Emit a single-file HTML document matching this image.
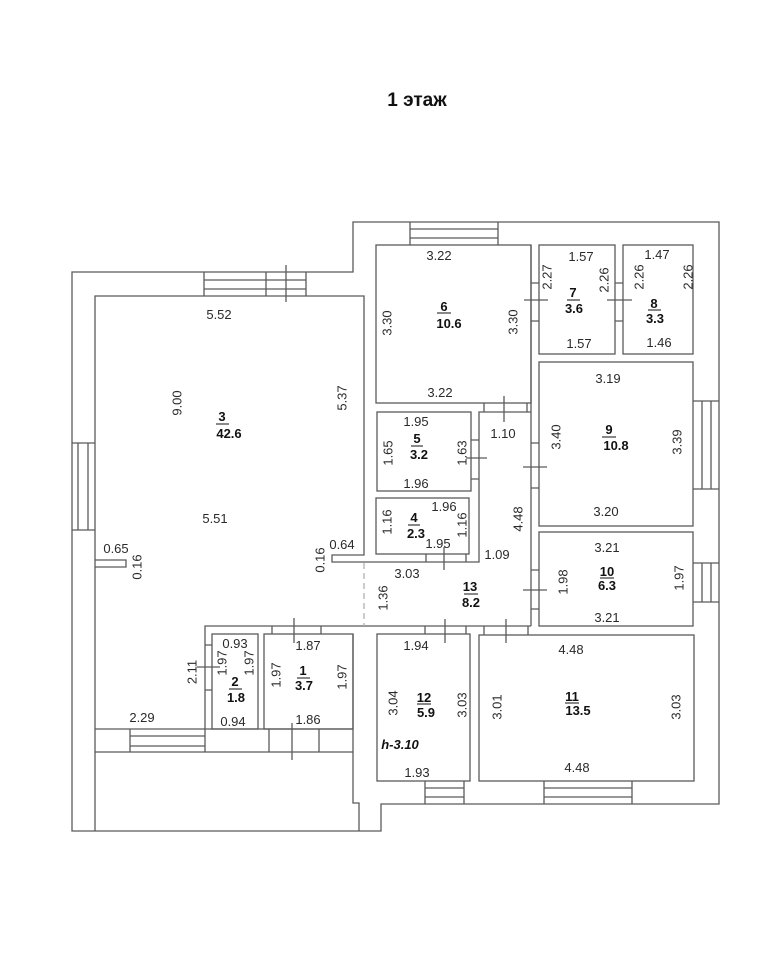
<!DOCTYPE html>
<html><head><meta charset="utf-8"><style>
html,body{margin:0;padding:0;background:#fff;}
svg{display:block;}
text{font-family:"Liberation Sans",Arial,sans-serif;}
.d{font-size:13px;fill:#2a2a2a;text-anchor:middle;}
.n{font-size:13px;font-weight:bold;fill:#111;text-anchor:middle;}
.t{font-size:19px;font-weight:bold;fill:#111;text-anchor:middle;font-family:"Liberation Sans","Noto Sans CJK SC",sans-serif;}
.h{font-size:13px;font-weight:bold;font-style:italic;fill:#111;text-anchor:middle;}
</style></head><body>
<svg width="768" height="960" viewBox="0 0 768 960" xmlns="http://www.w3.org/2000/svg">
<rect width="768" height="960" fill="#fff"/>
<text class="t" x="417" y="106">1 этаж</text>
<g fill="none" stroke="#5a5a5a" stroke-width="1.3">
<!-- outer -->
<path d="M72,272 H353 V222 H719 V804 H381 V831 H72 Z"/>
<!-- room 3 -->
<path d="M95,831 V296 H364 V555 H332 V562 H479 V412 H531"/>
<path d="M95,729 H205"/>
<path d="M95,560 H126 V567 H95"/>
<!-- wall around rooms 1-2 -->
<path d="M205,752 V626 H531"/>
<path d="M205,729 H353"/>
<path d="M95,752 H353"/>
<path d="M353,634 V803 H359 V831"/>
<rect x="212" y="634" width="46" height="95"/>
<rect x="264" y="634" width="89" height="95"/>
<!-- rooms -->
<rect x="376" y="245" width="155" height="158"/>
<rect x="377" y="412" width="94" height="79"/>
<rect x="376" y="498" width="93" height="56"/>
<path d="M531,245 V626"/>
<rect x="539" y="245" width="76" height="109"/>
<rect x="623" y="245" width="70" height="109"/>
<rect x="539" y="362" width="154" height="164"/>
<rect x="539" y="532" width="154" height="94"/>
<rect x="377" y="634" width="93" height="147"/>
<rect x="479" y="635" width="215" height="146"/>
<!-- windows -->
<path d="M204,272 V296 M266,272 V296 M306,272 V296 M204,280 H306 M204,289 H306"/>
<path d="M286,265 V302"/>
<path d="M410,222 V245 M498,222 V245 M410,229 H498 M410,238 H498"/>
<path d="M72,443 H95 M72,530 H95 M78,443 V530 M88,443 V530"/>
<path d="M693,401 H719 M693,489 H719 M702,401 V489 M711,401 V489"/>
<path d="M693,563 H719 M693,602 H719 M702,563 V602 M711,563 V602"/>
<path d="M130,729 V752 M130,736 H205 M130,746 H205"/>
<path d="M425,781 V804 M464,781 V804 M425,788 H464 M425,797 H464"/>
<path d="M544,781 V804 M632,781 V804 M544,788 H632 M544,797 H632"/>
<!-- doors -->
<path d="M531,283 H539 M531,321 H539 M524,300 H548"/>
<path d="M615,283 H623 M615,321 H623 M607,300 H632"/>
<path d="M484,403 V412 M527,403 V412 M504,396 V422"/>
<path d="M471,440 H479 M471,479 H479 M466,458 H487"/>
<path d="M426,554 V562 M466,554 V562 M444,547 V570"/>
<path d="M531,443 H539 M531,488 H539 M523,467 H547"/>
<path d="M531,570 H539 M531,609 H539 M523,590 H547"/>
<path d="M425,626 V634 M466,626 V634 M445,619 V643"/>
<path d="M484,626 V635 M528,626 V635 M506,619 V643"/>
<path d="M272,626 V634 M321,626 V634 M294,618 V643"/>
<path d="M269,729 V752 M319,729 V752 M292,723 V760"/>
<path d="M205,645 H212 M205,690 H212 M197,667 H220"/>
<!-- fraction bars -->
<path stroke="#111" stroke-width="1" d="M216,424 H229 M437,313 H451 M567,300 H580 M648,310 H661 M411,446 H423 M408,525 H420 M602,437 H616 M600,578 H614 M464,594 H478 M229,689 H242 M297,678 H310 M417,704 H431 M565,703 H579"/>
</g>
<path d="M364,563 V626" stroke="#aaa" stroke-width="1.2" stroke-dasharray="6,4" fill="none"/>

<!-- room 3 -->
<text class="d" x="219" y="319">5.52</text>
<text class="d" transform="translate(177,403) rotate(-90)" y="4.5">9.00</text>
<text class="d" transform="translate(342,398) rotate(-90)" y="4.5">5.37</text>
<text class="n" x="222" y="421">3</text>
<text class="n" x="229" y="438">42.6</text>
<text class="d" x="215" y="523">5.51</text>
<text class="d" x="116" y="553">0.65</text>
<text class="d" transform="translate(137,567) rotate(-90)" y="4.5">0.16</text>
<text class="d" transform="translate(320,560) rotate(-90)" y="4.5">0.16</text>
<text class="d" x="342" y="549">0.64</text>
<text class="d" x="142" y="722">2.29</text>
<!-- room 6 -->
<text class="d" x="439" y="260">3.22</text>
<text class="n" x="444" y="311">6</text>
<text class="n" x="449" y="328">10.6</text>
<text class="d" transform="translate(387,323) rotate(-90)" y="4.5">3.30</text>
<text class="d" transform="translate(513,322) rotate(-90)" y="4.5">3.30</text>
<text class="d" x="440" y="397">3.22</text>
<!-- room 7 -->
<text class="d" x="581" y="261">1.57</text>
<text class="d" transform="translate(547,277) rotate(-90)" y="4.5">2.27</text>
<text class="d" transform="translate(604,280) rotate(-90)" y="4.5">2.26</text>
<text class="n" x="573" y="297">7</text>
<text class="n" x="574" y="313">3.6</text>
<text class="d" x="579" y="348">1.57</text>
<!-- room 8 -->
<text class="d" x="657" y="259">1.47</text>
<text class="d" transform="translate(639,277) rotate(-90)" y="4.5">2.26</text>
<text class="d" transform="translate(688,277) rotate(-90)" y="4.5">2.26</text>
<text class="n" x="654" y="308">8</text>
<text class="n" x="655" y="323">3.3</text>
<text class="d" x="659" y="347">1.46</text>
<!-- room 9 -->
<text class="d" x="608" y="383">3.19</text>
<text class="d" transform="translate(556,437) rotate(-90)" y="4.5">3.40</text>
<text class="n" x="609" y="434">9</text>
<text class="n" x="616" y="450">10.8</text>
<text class="d" transform="translate(677,442) rotate(-90)" y="4.5">3.39</text>
<text class="d" x="606" y="516">3.20</text>
<!-- room 10 -->
<text class="d" x="607" y="552">3.21</text>
<text class="n" x="607" y="576">10</text>
<text class="n" x="607" y="590">6.3</text>
<text class="d" transform="translate(563,582) rotate(-90)" y="4.5">1.98</text>
<text class="d" transform="translate(679,578) rotate(-90)" y="4.5">1.97</text>
<text class="d" x="607" y="622">3.21</text>
<!-- room 5 -->
<text class="d" x="416" y="426">1.95</text>
<text class="d" transform="translate(388,453) rotate(-90)" y="4.5">1.65</text>
<text class="n" x="417" y="443">5</text>
<text class="n" x="419" y="459">3.2</text>
<text class="d" transform="translate(462,453) rotate(-90)" y="4.5">1.63</text>
<text class="d" x="416" y="488">1.96</text>
<!-- room 4 -->
<text class="d" transform="translate(387,522) rotate(-90)" y="4.5">1.16</text>
<text class="n" x="414" y="522">4</text>
<text class="n" x="416" y="538">2.3</text>
<text class="d" x="444" y="511">1.96</text>
<text class="d" transform="translate(462,525) rotate(-90)" y="4.5">1.16</text>
<text class="d" x="438" y="548">1.95</text>
<!-- corridor 13 -->
<text class="d" x="503" y="438">1.10</text>
<text class="d" transform="translate(518,519) rotate(-90)" y="4.5">4.48</text>
<text class="d" x="497" y="559">1.09</text>
<text class="d" x="407" y="578">3.03</text>
<text class="d" transform="translate(383,598) rotate(-90)" y="4.5">1.36</text>
<text class="n" x="470" y="591">13</text>
<text class="n" x="471" y="607">8.2</text>
<!-- room 2 -->
<text class="d" x="235" y="648">0.93</text>
<text class="d" transform="translate(222,663) rotate(-90)" y="4.5">1.97</text>
<text class="d" transform="translate(249,663) rotate(-90)" y="4.5">1.97</text>
<text class="d" transform="translate(192,672) rotate(-90)" y="4.5">2.11</text>
<text class="n" x="235" y="686">2</text>
<text class="n" x="236" y="702">1.8</text>
<text class="d" x="233" y="726">0.94</text>
<!-- room 1 -->
<text class="d" x="308" y="650">1.87</text>
<text class="d" transform="translate(276,675) rotate(-90)" y="4.5">1.97</text>
<text class="n" x="303" y="675">1</text>
<text class="n" x="304" y="690">3.7</text>
<text class="d" transform="translate(342,677) rotate(-90)" y="4.5">1.97</text>
<text class="d" x="308" y="724">1.86</text>
<!-- room 12 -->
<text class="d" x="416" y="650">1.94</text>
<text class="d" transform="translate(393,703) rotate(-90)" y="4.5">3.04</text>
<text class="n" x="424" y="702">12</text>
<text class="n" x="426" y="717">5.9</text>
<text class="d" transform="translate(462,705) rotate(-90)" y="4.5">3.03</text>
<text class="h" x="400" y="749">h-3.10</text>
<text class="d" x="417" y="777">1.93</text>
<!-- room 11 -->
<text class="d" x="571" y="654">4.48</text>
<text class="n" x="572" y="701">11</text>
<text class="n" x="578" y="715">13.5</text>
<text class="d" transform="translate(497,707) rotate(-90)" y="4.5">3.01</text>
<text class="d" transform="translate(676,707) rotate(-90)" y="4.5">3.03</text>
<text class="d" x="577" y="772">4.48</text>
</svg>
</body></html>
